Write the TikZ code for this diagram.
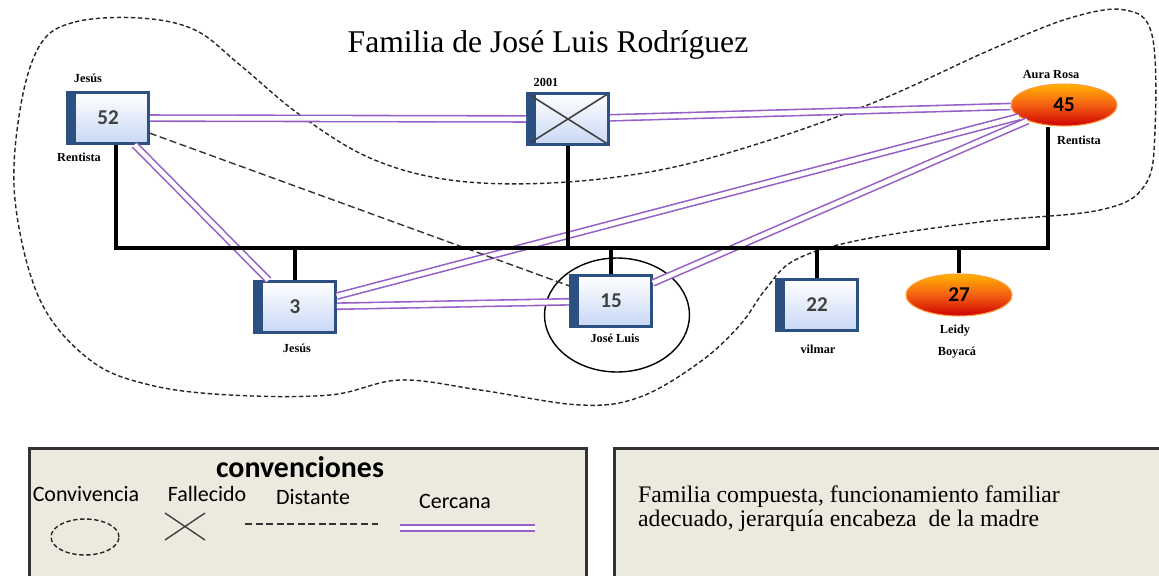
\documentclass[tikz,border=0pt]{standalone}
\usepackage{fontspec}
\setmainfont{Liberation Serif}
\newfontfamily\legendfont{Carlito}
\usetikzlibrary{arrows,shapes.geometric}

\definecolor{closetie}{RGB}{150,95,200}
\definecolor{frameblue}{RGB}{45,80,130}
\definecolor{paleblue}{RGB}{200,215,245}
\definecolor{legendbg}{RGB}{236,233,223}
\definecolor{redorange}{RGB}{245,95,20}

\begin{document}
\begin{tikzpicture}[x=0.02cm,y=-0.02cm,
  male node/.style={rectangle,minimum width=1.62cm,minimum height=1.02cm,draw=frameblue,line width=1.5pt,
    top color=white,bottom color=paleblue,text=black!75,font=\legendfont\bfseries\fontsize{12}{12}\selectfont,
    path picture={\fill[frameblue] (path picture bounding box.north west) rectangle ([xshift=5pt]path picture bounding box.south west);}},
  dead node/.style={male node,
    path picture={\fill[frameblue] (path picture bounding box.north west) rectangle ([xshift=5pt]path picture bounding box.south west);
      \draw[black!75,line width=0.9pt] (path picture bounding box.north west) -- (path picture bounding box.south east)
        (path picture bounding box.south west) -- (path picture bounding box.north east);}},
  female node/.style={ellipse,minimum width=2.12cm,minimum height=0.84cm,draw=orange!80,line width=0.6pt,
    top color=orange!60!yellow,bottom color=red!80!black,middle color=redorange,
    font=\legendfont\bfseries\fontsize{12}{12}\selectfont},
  person label/.style={font=\fontsize{7}{8}\selectfont\bfseries,inner sep=1pt},
  close tie/.style={draw=closetie,double=white,double distance=2.6pt,line width=0.9pt},
  distant tie/.style={draw=black!80,line width=0.8pt,dash pattern=on 4pt off 2pt},
  family line/.style={draw=black,line width=2pt},
  convivencia/.style={draw=black!85,line width=0.8pt,dash pattern=on 2.5pt off 1.5pt},
  legend text/.style={font=\legendfont\fontsize{12.5}{14}\selectfont,inner sep=1pt}]

 \useasboundingbox (0,0) rectangle (1159,575);

 \node[font=\fontsize{18}{20}\selectfont] (title) at (548,45) {Familia de José Luis Rodríguez};

 % convivencia
 \draw[convivencia] plot[smooth cycle,tension=0.6] coordinates {
   (40,45) (75,22) (140,18) (195,30) (240,65) (300,115) (370,158) (450,180) (550,183)
   (660,170) (770,140) (880,100) (990,50) (1070,18) (1125,10) (1152,35) (1155,130)
   (1145,185) (1100,210) (980,222) (860,240) (795,260) (765,290) (740,325) (700,362)
   (640,397) (580,405) (480,390) (400,380) (330,395) (230,395) (150,385) (90,360)
   (40,300) (15,200) (20,110)};

 \node[dead node] (2001) at (568,119) {};
 \node[male node] (52) at (108,118) {52};
 \node[female node] (45) at (1064,105) {45};
 \node[male node] (3) at (295,307) {3};
 \node[male node] (15) at (611,301) {15};
 \node[male node] (22) at (817,305) {22};
 \node[female node] (27) at (959,295) {27};

 \node[draw,ellipse,minimum width=2.9cm,minimum height=2.28cm,line width=0.8pt] (index) at (617,315) {};

 \node[person label] (52 name) at (88,78) {Jesús};
 \node[person label] (52 job) at (79,157) {Rentista};
 \node[person label] (2001 name) at (546,82) {2001};
 \node[person label] (45 name) at (1051,75) {Aura Rosa};
 \node[person label] (45 job) at (1079,140) {Rentista};
 \node[person label] (3 name) at (297,348) {Jesús};
 \node[person label] (15 name) at (615,338) {José Luis};
 \node[person label] (22 name) at (818,349) {vilmar};
 \node[person label] (27 name) at (955,331) {Leidy};
 \node[person label] (27 place) at (957,353) {Boyacá};

 \path
    (52)	edge [close tie] (2001)
    (2001)	edge [close tie] (45)
    (52)	edge [close tie] (3)
    (3)		edge [close tie] (45)
    (3)		edge [close tie] (15)
    (15)	edge [close tie] (45)
    (52)	edge [distant tie] (15);

 \coordinate (bar west) at (116,248);
 \coordinate (bar east) at (1048,248);
 \draw[family line] (bar west |- 52.south) -- (bar west) -- (bar east) -- (bar east |- 45.south);
 \draw[family line] (2001.south) -- (2001.south |- bar west);
 \foreach \kid in {3,15,22,27}
   \draw[family line] (\kid.north) -- (\kid.north |- bar west);

 % legend
 \node[draw=black!80,fill=legendbg,line width=1.5pt,anchor=north west,minimum width=11.14cm,minimum height=3cm] (conventions) at (28,447) {};
 \node[draw=black!80,fill=legendbg,line width=1.5pt,anchor=north west,minimum width=11.2cm,minimum height=3cm] (notes) at (613,447) {};

 \node[font=\legendfont\bfseries\fontsize{17}{18}\selectfont] (conv title) at (300,467) {convenciones};
 \node[legend text] (conv living) at (86,494) {Convivencia};
 \node[legend text] (conv dead) at (207,494) {Fallecido};
 \node[legend text] (conv far) at (313,497) {Distante};
 \node[legend text] (conv near) at (455,501) {Cercana};
 \draw[convivencia] (85,537) ellipse (0.68cm and 0.36cm);
 \draw[black!75,line width=0.8pt] (165,513) -- (205,540) (165,540) -- (205,513);
 \draw[distant tie] (245,524) -- (378,524);
 \draw[close tie] (400,528) -- (535,528);

 \node[anchor=west,align=left,font=\fontsize{13.5}{13.5}\selectfont] (summary) at (632,509)
   {Familia compuesta, funcionamiento familiar\\adecuado, jerarquía encabeza \ de la madre};

\end{tikzpicture}
\end{document}
